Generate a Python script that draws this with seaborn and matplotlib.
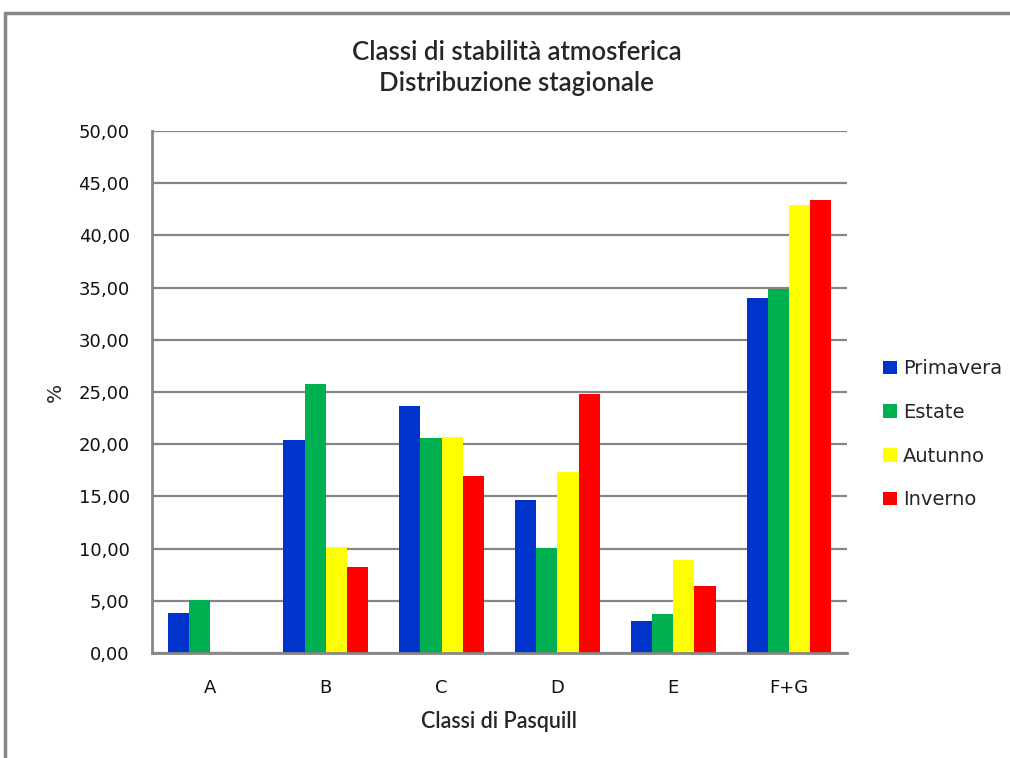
import numpy as np
import pandas as pd
import matplotlib
matplotlib.use("Agg")
import matplotlib.pyplot as plt
from matplotlib.lines import Line2D
from matplotlib.ticker import FuncFormatter, MultipleLocator, FixedLocator
import seaborn as sns

classes = ["A", "B", "C", "D", "E", "F+G"]
seasons = ["Primavera", "Estate", "Autunno", "Inverno"]
primavera = [3.86, 20.45, 23.70, 14.70, 3.10, 34.05]
estate = [5.08, 25.75, 20.60, 10.10, 3.75, 34.90]
autunno = [0.22, 10.15, 20.70, 17.30, 8.95, 42.90]
inverno = [0.00, 8.20, 17.00, 24.80, 6.45, 43.35]
palette = ["#0033CC", "#00B050", "#FFFF00", "#FF0000"]

df = pd.DataFrame({
    "classe": np.repeat(classes, len(seasons)),
    "stagione": seasons * len(classes),
    "valore": np.array([primavera, estate, autunno, inverno]).T.ravel(),
})

sns.set_style("white")
plt.rcParams["font.family"] = ["DejaVu Sans"]

fig = plt.figure(figsize=(10.10, 7.58), dpi=100)
ax = fig.add_axes([0.1505, 0.1385, 0.6881, 0.6887])

sns.barplot(data=df, x="classe", y="valore", hue="stagione", order=classes,
            hue_order=seasons, palette=palette, width=0.73, saturation=1,
            linewidth=0, ax=ax, legend=True)

grey = "#868686"
ax.set_ylim(0, 50)
ax.set_xlim(-0.5, len(classes) - 0.5)
ax.yaxis.set_major_locator(MultipleLocator(5))
ax.yaxis.set_major_formatter(FuncFormatter(lambda v, _: f"{v:.2f}".replace(".", ",")))
ax.grid(axis="y", color=grey, linewidth=1.6)
ax.set_axisbelow(True)
for side in ["top", "right"]:
    ax.spines[side].set_visible(False)
for side in ["left", "bottom"]:
    ax.spines[side].set_color(grey)
    ax.spines[side].set_linewidth(2)

ax.tick_params(axis="y", length=0, pad=16, labelsize=13, labelcolor="#111111")
ax.tick_params(axis="x", which="major", length=0, pad=19, labelsize=13, labelcolor="#111111")
ax.xaxis.set_minor_locator(FixedLocator(np.arange(-0.5, len(classes), 1.0)))
ax.tick_params(axis="x", which="minor", length=7, width=1.6, color=grey, direction="out")

ax.set_xlabel("Classi di Pasquill", fontsize=15.5, family="Lato", fontweight="semibold",
              labelpad=10)
ax.set_ylabel("%", fontsize=14.5, labelpad=10)

ax.set_title("Classi di stabilità atmosferica\nDistribuzione stagionale",
             fontsize=18.5, family="Lato", fontweight="semibold", pad=29, linespacing=1.3,
             x=0.525)

handles, labels = ax.get_legend_handles_labels()
ax.legend(handles, labels, loc="center left", bbox_to_anchor=(1.027, 0.419),
          frameon=False, fontsize=14, handlelength=0.7, handleheight=0.7,
          handletextpad=0.3, labelspacing=1.27)

# outer chart frame
fig.add_artist(Line2D([0.005, 0.005], [0.0, 0.983], color=grey, linewidth=2.5,
                      transform=fig.transFigure))
fig.add_artist(Line2D([0.005, 1.0], [0.983, 0.983], color=grey, linewidth=2.5,
                      transform=fig.transFigure))

fig.savefig("out.png", dpi=100)
